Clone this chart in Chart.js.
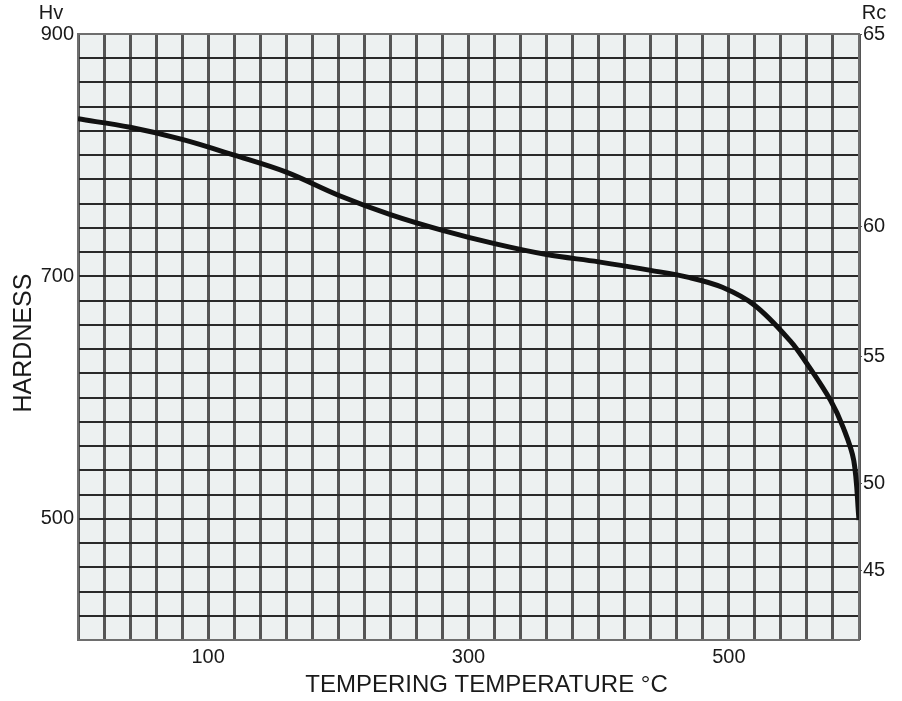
<!DOCTYPE html>
<html>
<head>
<meta charset="utf-8">
<script src="https://cdn.jsdelivr.net/npm/chart.js@4/dist/chart.umd.min.js"></script>
<style>
    html, body { margin: 0; padding: 0; background: #fff; }
    #wrap { width: 902px; height: 701px; }
</style>
</head>
<body>
<div id="wrap"><canvas id="hardnessChart" width="902" height="701"></canvas></div>
<script>
// tempering curve (deg C -> Hv)
const temperatures = [0, 40, 80, 120, 160, 200, 240, 280, 320, 360, 400, 440, 470, 495, 520, 547, 560, 578, 588, 596, 600];
const hardnessHv = [830, 823, 813, 800, 786, 767, 751, 738, 727, 718, 712, 705, 699, 691, 676, 647, 628, 598, 575, 548, 499];

// labelled ticks
const xTickLabels = [100, 300, 500];
const hvTickLabels = [500, 700, 900];
// Rockwell C scale on the right, placed at the Hv value it sits beside
const rcLabels = [65, 60, 55, 50, 45];
const rcAtHv = [900, 741, 634, 529, 457];

const FONT = '"Liberation Sans", Arial, sans-serif';

const plotDecor = {
    id: 'plotDecor',
    beforeDraw(chart) {
        const { ctx, chartArea: a } = chart;
        ctx.save();
        ctx.fillStyle = '#edf1f1';
        ctx.fillRect(a.left, a.top, a.right - a.left, a.bottom - a.top);
        ctx.restore();
    },
    beforeDatasetsDraw(chart) {
        const { ctx, chartArea: a } = chart;
        ctx.save();
        ctx.strokeStyle = '#6e6e6e';
        ctx.lineWidth = 2;
        ctx.strokeRect(a.left, a.top, a.right - a.left, a.bottom - a.top);
        ctx.restore();
    },
    afterDraw(chart) {
        const { ctx, chartArea: a } = chart;
        ctx.save();
        ctx.fillStyle = '#1a1a1a';
        ctx.textBaseline = 'middle';
        ctx.textAlign = 'center';
        ctx.font = '20px ' + FONT;
        ctx.fillText('Hv', 51, 13);
        ctx.fillText('Rc', 874, 13);

        ctx.font = '24px ' + FONT;
        ctx.fillText('TEMPERING TEMPERATURE \u00B0C', (a.left + a.right) / 2 + 18, 685);

        ctx.translate(24, (a.top + a.bottom) / 2 + 6);
        ctx.rotate(-Math.PI / 2);
        ctx.font = '25px ' + FONT;
        ctx.fillText('HARDNESS', 0, 0);
        ctx.restore();
    }
};

function initHardnessChart() {
    const ctx = document.getElementById('hardnessChart').getContext('2d');
    new Chart(ctx, {
        type: 'line',
        data: {
            datasets: [{
                data: temperatures.map((t, i) => ({ x: t, y: hardnessHv[i] })),
                borderColor: '#111',
                borderWidth: 5,
                borderJoinStyle: 'round',
                pointRadius: 0,
                tension: 0.35,
                fill: false
            }]
        },
        options: {
            responsive: false,
            animation: false,
            layout: { padding: { top: 34, left: 0, right: 0, bottom: 0 } },
            plugins: {
                legend: { display: false },
                tooltip: { enabled: false }
            },
            scales: {
                x: {
                    type: 'linear',
                    min: 0,
                    max: 600,
                    afterFit: (scale) => { scale.height = 61; },
                    grid: { color: '#555', lineWidth: 3, drawTicks: false },
                    border: { display: false },
                    ticks: {
                        stepSize: 20,
                        autoSkip: false,
                        maxRotation: 0,
                        padding: 5,
                        color: '#1a1a1a',
                        font: { family: FONT, size: 20 },
                        callback: (v) => xTickLabels.includes(v) ? String(v) : ''
                    }
                },
                y: {
                    position: 'left',
                    min: 400,
                    max: 900,
                    afterFit: (scale) => { scale.width = 78; },
                    grid: { color: '#2a2a2a', lineWidth: 2, drawTicks: false },
                    border: { display: false },
                    ticks: {
                        stepSize: 20,
                        autoSkip: false,
                        padding: 4,
                        color: '#1a1a1a',
                        font: { family: FONT, size: 20 },
                        callback: (v) => hvTickLabels.includes(v) ? String(v) : ''
                    }
                },
                rc: {
                    position: 'right',
                    min: 400,
                    max: 900,
                    afterFit: (scale) => { scale.width = 43; },
                    afterBuildTicks: (scale) => {
                        scale.ticks = rcAtHv.map(v => ({ value: v }));
                    },
                    grid: { drawOnChartArea: false, drawTicks: true, tickLength: 3, color: '#555', lineWidth: 1 },
                    border: { display: false },
                    ticks: {
                        autoSkip: false,
                        padding: 1,
                        color: '#1a1a1a',
                        font: { family: FONT, size: 20 },
                        callback: (v) => {
                            const i = rcAtHv.indexOf(v);
                            return i >= 0 ? String(rcLabels[i]) : '';
                        }
                    }
                }
            }
        },
        plugins: [plotDecor]
    });
}

initHardnessChart();
</script>
</body>
</html>
